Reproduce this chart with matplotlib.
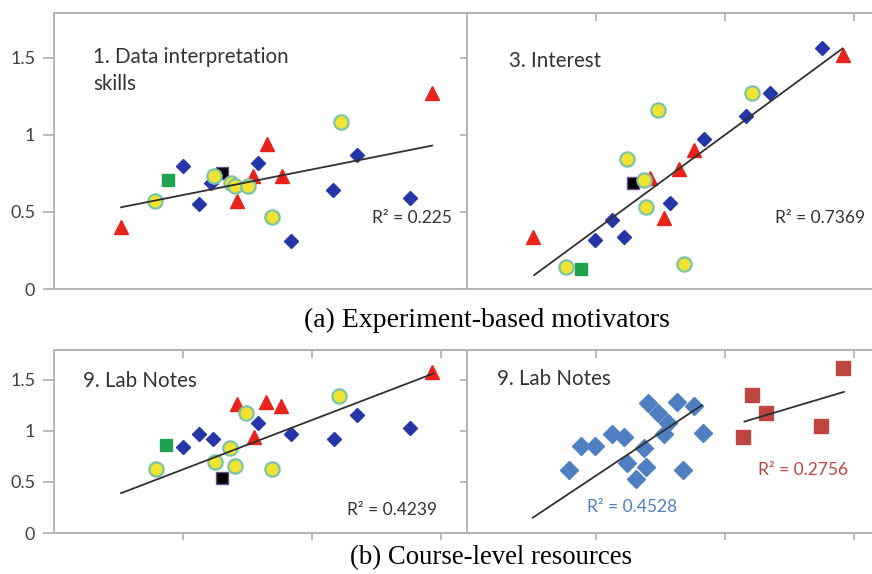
import matplotlib
matplotlib.use("Agg")
import matplotlib.pyplot as plt

# ---------------- data ----------------
# Panel 1: Data interpretation skills
p1_blue_x = [1.00, 1.12, 1.22, 1.58, 1.84, 2.16, 2.35, 2.76]
p1_blue_y = [0.80, 0.55, 0.69, 0.82, 0.31, 0.64, 0.87, 0.59]
p1_red_x = [0.52, 1.42, 1.54, 1.65, 1.77, 2.93]
p1_red_y = [0.40, 0.57, 0.73, 0.94, 0.73, 1.27]
p1_yel_x = [0.78, 1.24, 1.37, 1.40, 1.50, 1.69, 2.22]
p1_yel_y = [0.57, 0.73, 0.69, 0.67, 0.67, 0.47, 1.08]
p1_green_x = [0.88]
p1_green_y = [0.71]
p1_black_x = [1.30]
p1_black_y = [0.75]
p1_trend_x = [0.52, 2.93]
p1_trend_y = [0.53, 0.93]

# Panel 3: Interest
p3_blue_x = [2.75, 2.35, 2.16, 1.84, 1.57, 1.12, 0.99, 1.22]
p3_blue_y = [1.565, 1.27, 1.12, 0.97, 0.56, 0.45, 0.32, 0.34]
p3_red_x = [0.51, 1.42, 1.53, 1.64, 1.76, 2.91]
p3_red_y = [0.34, 0.72, 0.46, 0.78, 0.90, 1.52]
p3_yel_x = [0.77, 1.24, 1.37, 1.39, 1.48, 1.68, 2.21]
p3_yel_y = [0.14, 0.84, 0.71, 0.53, 1.16, 0.16, 1.27]
p3_green_x = [0.88]
p3_green_y = [0.13]
p3_black_x = [1.29]
p3_black_y = [0.69]
p3_trend_x = [0.52, 2.91]
p3_trend_y = [0.09, 1.56]

# Panel 9 (left): Lab Notes
p9_blue_x = [1.00, 1.12, 1.23, 1.58, 1.84, 2.17, 2.35, 2.76]
p9_blue_y = [0.84, 0.97, 0.92, 1.08, 0.97, 0.92, 1.15, 1.03]
p9_red_x = [1.42, 1.55, 1.64, 1.76, 2.93]
p9_red_y = [1.26, 0.94, 1.28, 1.24, 1.57]
p9_yel_x = [0.79, 1.25, 1.36, 1.40, 1.49, 1.69, 2.21]
p9_yel_y = [0.63, 0.69, 0.83, 0.66, 1.17, 0.63, 1.34]
p9_green_x = [0.87]
p9_green_y = [0.86]
p9_black_x = [1.30]
p9_black_y = [0.54]
p9_trend_x = [0.52, 2.94]
p9_trend_y = [0.39, 1.56]

# Panel 9 (right): Lab Notes, two groups
q9_blue_x = [0.79, 0.88, 0.99, 1.12, 1.22, 1.24, 1.31, 1.37, 1.39,
             1.40, 1.48, 1.53, 1.56, 1.63, 1.67, 1.76, 1.83]
q9_blue_y = [0.62, 0.85, 0.85, 0.97, 0.94, 0.68, 0.53, 0.83, 0.65,
             1.27, 1.17, 0.97, 1.08, 1.28, 0.62, 1.24, 0.98]
q9_red_x = [2.14, 2.21, 2.32, 2.74, 2.91]
q9_red_y = [0.94, 1.35, 1.17, 1.05, 1.61]
q9_blue_trend_x = [0.51, 1.82]
q9_blue_trend_y = [0.15, 1.25]
q9_red_trend_x = [2.15, 2.92]
q9_red_trend_y = [1.09, 1.38]

y_ticks = [0, 0.5, 1, 1.5]
y_tick_labels = ["0", "0.5", "1", "1.5"]
x_ticks = [1, 2, 3]

# ---------------- styling ----------------
W, H = 872, 574
fig = plt.figure(figsize=(W / 100, H / 100), dpi=100)

SANS = ["Lato", "DejaVu Sans"]
SERIF = ["Liberation Serif", "DejaVu Serif"]
SPINE = "#b4b4b4"
TXT = "#404040"
DARK = "#333333"

C_BLUE = "#2536a8"
C_RED = "#e8231c"
C_YEL = "#f0e431"
C_YEL_E = "#7cc3a8"
C_GREEN = "#20a34f"
C_LBLUE = "#4f7fc1"
C_DRED = "#bd4641"


def make_ax(px0, py_top, py_bot, left_labels, bottom_ticks, top_ticks):
    ax = fig.add_axes([px0 / W, (H - py_bot) / H, 413 / W, (py_bot - py_top) / H])
    ax.set_xlim(0, 3.2)
    ax.set_ylim(0, 1.79)
    ax.set_xticks(x_ticks)
    ax.set_xticklabels([])
    ax.set_yticks(y_ticks)
    if left_labels:
        ax.set_yticklabels(y_tick_labels, fontfamily=SANS, fontsize=13, color=TXT)
        ax.tick_params(axis="y", length=8, width=1.3, color=SPINE, pad=5.5)
    else:
        ax.set_yticklabels([])
        ax.tick_params(axis="y", length=5, width=1.3, color=SPINE)
    ax.tick_params(axis="x", length=5 if bottom_ticks else 0, width=1.3,
                   color=SPINE, direction="out")
    for s in ax.spines.values():
        s.set_color(SPINE)
        s.set_linewidth(1.4)
    ax.spines["right"].set_visible(False)
    if top_ticks:
        sec = ax.secondary_xaxis("top")
        sec.set_xticks(x_ticks)
        sec.set_xticklabels([])
        sec.tick_params(direction="in", length=6, width=1.3, color=SPINE)
        sec.spines["top"].set_color(SPINE)
        sec.spines["top"].set_linewidth(1.4)
    return ax


def group_points(ax, bx, by, rx, ry, yx, yy, gx, gy, kx, ky):
    ax.plot(bx, by, "D", color=C_BLUE, ms=7.5, mec=C_BLUE, zorder=3, ls="none")
    ax.plot(rx, ry, "^", color=C_RED, ms=10, mec=C_RED, zorder=3, ls="none")
    ax.plot(kx, ky, "s", color="black", ms=9, mec="#6a4f8a", mew=1, zorder=3, ls="none")
    ax.plot(yx, yy, "o", color=C_YEL, ms=10.3, mec=C_YEL_E, mew=1.6, zorder=4, ls="none")
    ax.plot(gx, gy, "s", color=C_GREEN, ms=9, mec=C_GREEN, zorder=3, ls="none")


def trend(ax, tx, ty):
    ax.plot(tx, ty, "-", color="#303030", lw=1.3, zorder=5)


def label(ax, x, y, s, size=14.8, color=DARK):
    ax.text(x, y, s, transform=ax.transAxes, fontfamily=SANS, fontsize=size,
            color=color, ha="left", va="baseline")


# Top left
ax1 = make_ax(54, 13, 289, True, False, False)
group_points(ax1, p1_blue_x, p1_blue_y, p1_red_x, p1_red_y, p1_yel_x, p1_yel_y,
             p1_green_x, p1_green_y, p1_black_x, p1_black_y)
trend(ax1, p1_trend_x, p1_trend_y)
label(ax1, 0.094, 0.819, "1. Data interpretation")
label(ax1, 0.094, 0.721, "skills")
label(ax1, 0.770, 0.239, "R² = 0.225", size=12.5)

# Top right
ax3 = make_ax(467, 13, 289, False, False, True)
group_points(ax3, p3_blue_x, p3_blue_y, p3_red_x, p3_red_y, p3_yel_x, p3_yel_y,
             p3_green_x, p3_green_y, p3_black_x, p3_black_y)
trend(ax3, p3_trend_x, p3_trend_y)
label(ax3, 0.102, 0.804, "3. Interest")
label(ax3, 0.746, 0.239, "R² = 0.7369", size=12.5)

# Bottom left
ax9 = make_ax(54, 350, 533, True, True, True)
group_points(ax9, p9_blue_x, p9_blue_y, p9_red_x, p9_red_y, p9_yel_x, p9_yel_y,
             p9_green_x, p9_green_y, p9_black_x, p9_black_y)
trend(ax9, p9_trend_x, p9_trend_y)
label(ax9, 0.070, 0.798, "9. Lab Notes")
label(ax9, 0.709, 0.098, "R² = 0.4239", size=12.5)

# Bottom right
axq = make_ax(467, 350, 533, False, True, True)
axq.plot(q9_blue_x, q9_blue_y, "D", color=C_LBLUE, ms=9, mec=C_LBLUE, zorder=3, ls="none")
axq.plot(q9_red_x, q9_red_y, "s", color=C_DRED, ms=10, mec=C_DRED, zorder=3, ls="none")
trend(axq, q9_blue_trend_x, q9_blue_trend_y)
trend(axq, q9_red_trend_x, q9_red_trend_y)
label(axq, 0.073, 0.809, "9. Lab Notes")
label(axq, 0.290, 0.115, "R² = 0.4528", size=12.5, color=C_LBLUE)
label(axq, 0.705, 0.317, "R² = 0.2756", size=12.5, color=C_DRED)

# Captions
fig.text(487 / W, 1 - 320 / H, "(a) Experiment-based motivators",
         fontfamily=SERIF, fontsize=20, color="black", ha="center", va="center")
fig.text(491 / W, 1 - 558 / H, "(b) Course-level resources",
         fontfamily=SERIF, fontsize=19.3, color="black", ha="center", va="center")

fig.savefig("out.png", dpi=100)
